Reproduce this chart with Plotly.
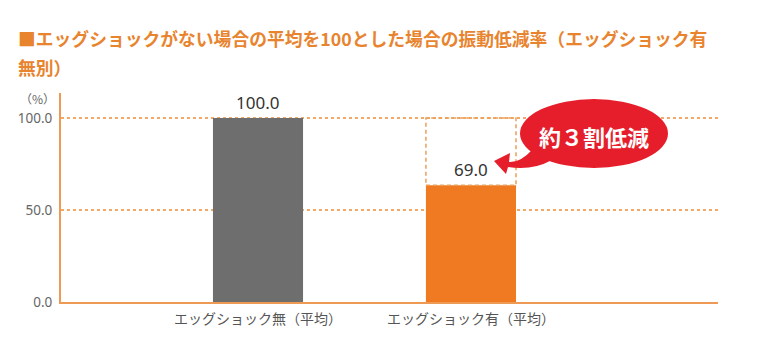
import plotly.graph_objects as go

# ---- data ----
categories = ["エッグショック無（平均）", "エッグショック有（平均）"]
bar_values = [100.0, 63.5]
bar_labels = ["100.0", "69.0"]
bar_colors = ["#6E6E6E", "#F07A22"]
y_tick_values = [0, 50, 100]
y_tick_labels = ["0.0", "50.0", "100.0"]
title_line1 = "■エッグショックがない場合の平均を100とした場合の振動低減率（エッグショック有"
title_line2 = "無別）"
callout_text = "約３割低減"
unit_label = "（%）"

# ---- layout geometry (pixels, page coords; page body has 8px margin) ----
OFF = 8
W, H = 759 - OFF, 357 - OFF
ML, MR, MT, MB = 61 - OFF, 41, 93 - OFF, 55
PW = W - ML - MR
PH = H - MT - MB

ORANGE_TXT = "#E8842E"
ORANGE_AX = "#EE9A55"
ORANGE_GRID = "#F2A866"
RED = "#E61E2B"
FONT = "Noto Sans CJK JP"


def px(x):
    return (x - OFF - ML) / PW


def py(y):
    return (H - MB - (y - OFF)) / PH


BAR_W = 0.423

fig = go.Figure()
fig.add_trace(go.Bar(
    x=categories, y=bar_values, marker_color=bar_colors,
    marker_line_width=0, width=BAR_W, hoverinfo="skip",
))

# dashed box showing reduction
fig.add_shape(type="rect", xref="x", yref="y",
              x0=1 - BAR_W / 2, x1=1 + BAR_W / 2,
              y0=bar_values[1], y1=bar_values[0],
              line=dict(color="#E9A05A", width=1.5, dash="4px,3px"),
              fillcolor="rgba(0,0,0,0)", layer="above")

# speech bubble
fig.add_shape(type="circle", xref="paper", yref="paper",
              x0=px(520), x1=px(668), y0=py(168), y1=py(99),
              fillcolor=RED, line=dict(width=0), layer="above")
tail_pts = [("M", [(532, 150)]),
            ("Q", [(520, 163), (509, 162)]),
            ("L", [(510, 153)]),
            ("L", [(494, 161)]),
            ("L", [(506, 174)]),
            ("L", [(508, 167)]),
            ("Q", [(532, 171), (552, 160)])]
path = ""
for cmd, pts in tail_pts:
    path += cmd + " " + " ".join(f"{px(a):.5f},{py(b):.5f}" for a, b in pts) + " "
path += "Z"
fig.add_shape(type="path", xref="paper", yref="paper", path=path,
              fillcolor=RED, line=dict(width=0), layer="above")

annotations = [
    dict(text=f"<b>{title_line1}</b>", xref="paper", yref="paper",
         x=px(16), y=py(38), xanchor="left", yanchor="middle",
         showarrow=False, font=dict(size=17.8, color=ORANGE_TXT, family=FONT)),
    dict(text=f"<b>{title_line2}</b>", xref="paper", yref="paper",
         x=px(16), y=py(67), xanchor="left", yanchor="middle",
         showarrow=False, font=dict(size=17.8, color=ORANGE_TXT, family=FONT)),
    dict(text=unit_label, xref="paper", yref="paper",
         x=px(57), y=py(98), xanchor="right", yanchor="middle",
         showarrow=False, font=dict(size=12, color="#666666", family=FONT)),
    dict(text=f"<b>{callout_text}</b>", xref="paper", yref="paper",
         x=px(594), y=py(136), xanchor="center", yanchor="middle",
         showarrow=False, font=dict(size=22, color="white", family=FONT)),
]
for c, v, lab in zip(categories, bar_values, bar_labels):
    annotations.append(dict(text=lab, x=c, y=v, xref="x", yref="y",
                            xanchor="center", yanchor="bottom", yshift=2,
                            showarrow=False,
                            font=dict(size=17, color="#333333", family="Noto Sans")))

fig.update_layout(
    width=W, height=H,
    margin=dict(l=ML, r=MR, t=MT, b=MB, pad=0, autoexpand=False),
    paper_bgcolor="white", plot_bgcolor="white",
    showlegend=False,
    font=dict(family=FONT),
    annotations=annotations,
    xaxis=dict(type="category", range=[-0.925, 2.16], showgrid=False,
               showline=True, linecolor=ORANGE_AX, linewidth=2,
               ticks="", zeroline=False, ticklabelstandoff=3, automargin=False,
               tickfont=dict(size=14, color="#555555", family=FONT),
               fixedrange=True),
    yaxis=dict(range=[0, 113.6], tickvals=y_tick_values, ticktext=y_tick_labels,
               showgrid=True, gridcolor=ORANGE_GRID, griddash="dot", gridwidth=1.5,
               showline=True, linecolor=ORANGE_AX, linewidth=2, zeroline=False,
               ticks="", ticklabelstandoff=4, automargin=False,
               tickfont=dict(size=13.5, color="#666666", family="Noto Sans"),
               fixedrange=True),
)

fig.write_html("out.html", config={"displayModeBar": False})
